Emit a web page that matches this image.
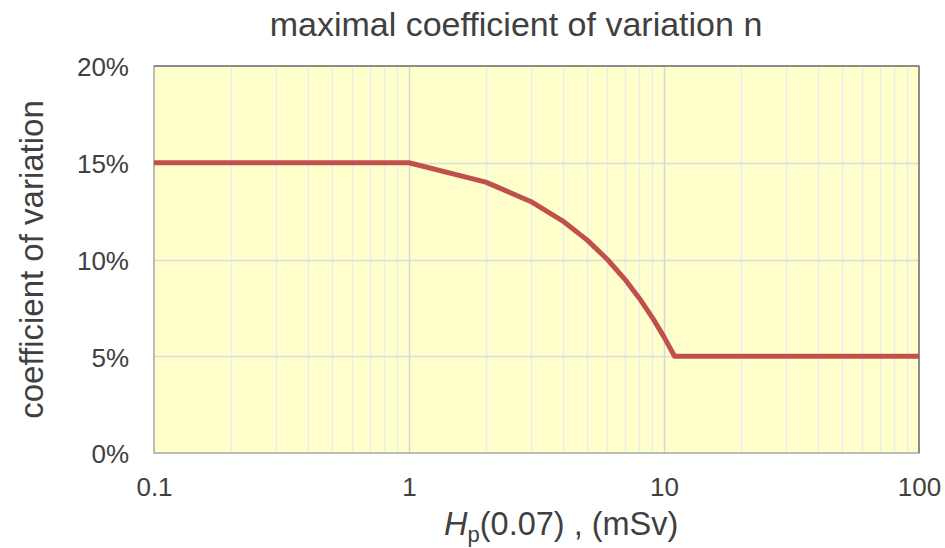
<!DOCTYPE html>
<html>
<head>
<meta charset="utf-8">
<script src="https://cdn.jsdelivr.net/npm/d3@7"></script>
<style>
  body { margin: 0; background: #fff; }
  text { font-family: "Liberation Sans", Arial, sans-serif; fill: #404040; }
</style>
</head>
<body>
<script>
// dose Hp(0.07) in mSv and the maximal coefficient of variation
const doses = [0.1, 1, 2, 3, 4, 5, 6, 7, 8, 9, 10, 11, 100];
const cvValues = [0.15, 0.15, 0.14, 0.13, 0.12, 0.11, 0.10, 0.09, 0.08, 0.07, 0.06, 0.05, 0.05];
const xTicks = [0.1, 1, 10, 100];
const yTicks = [0, 0.05, 0.10, 0.15, 0.20];

const width = 945;
const height = 548;
const margin = { top: 66, right: 26, bottom: 95, left: 154 };

const svg = d3
  .select("body")
  .append("svg")
  .attr("width", width)
  .attr("height", height);

const x = d3
  .scaleLog()
  .domain([0.1, 100])
  .range([margin.left, width - margin.right]);

const y = d3
  .scaleLinear()
  .domain([0, 0.2])
  .range([height - margin.bottom, margin.top]);

svg
  .append("rect")
  .attr("x", x(0.1))
  .attr("y", y(0.2))
  .attr("width", x(100) - x(0.1))
  .attr("height", y(0) - y(0.2))
  .attr("fill", "#ffffcc");

// minor log gridlines
const minorTicks = x.ticks().filter((d) => !xTicks.includes(d));
svg
  .append("g")
  .selectAll("line")
  .data(minorTicks)
  .join("line")
  .attr("x1", (d) => Math.round(x(d)) + 0.5)
  .attr("x2", (d) => Math.round(x(d)) + 0.5)
  .attr("y1", y(0.2))
  .attr("y2", y(0))
  .attr("stroke", "#ececec")
  .attr("stroke-width", 1.5);

svg
  .append("g")
  .selectAll("line")
  .data(xTicks.slice(1, -1))
  .join("line")
  .attr("x1", (d) => Math.round(x(d)) + 0.5)
  .attr("x2", (d) => Math.round(x(d)) + 0.5)
  .attr("y1", y(0.2))
  .attr("y2", y(0))
  .attr("stroke", "#d6d6d6")
  .attr("stroke-width", 1.5);

svg
  .append("g")
  .selectAll("line")
  .data(yTicks.slice(1, -1))
  .join("line")
  .attr("x1", x(0.1))
  .attr("x2", x(100))
  .attr("y1", (d) => Math.round(y(d)) + 0.5)
  .attr("y2", (d) => Math.round(y(d)) + 0.5)
  .attr("stroke", "#dcdcdc")
  .attr("stroke-width", 1.5);

// plot frame
svg
  .append("rect")
  .attr("x", x(0.1))
  .attr("y", y(0.2))
  .attr("width", x(100) - x(0.1))
  .attr("height", y(0) - y(0.2))
  .attr("fill", "none")
  .attr("stroke", "#a6a6a6")
  .attr("stroke-width", 1.5);

svg
  .append("line")
  .attr("x1", x(0.1))
  .attr("x2", x(100))
  .attr("y1", y(0.2))
  .attr("y2", y(0.2))
  .attr("stroke", "#8c8c8c")
  .attr("stroke-width", 2);

svg
  .append("line")
  .attr("x1", x(100))
  .attr("x2", x(100))
  .attr("y1", y(0.2))
  .attr("y2", y(0))
  .attr("stroke", "#8c8c8c")
  .attr("stroke-width", 2);

const line = d3
  .line()
  .x((d, i) => x(doses[i]))
  .y((d) => y(d));

svg
  .append("path")
  .datum(cvValues)
  .attr("d", line)
  .attr("fill", "none")
  .attr("stroke", "#c0504d")
  .attr("stroke-width", 5)
  .attr("stroke-linejoin", "round");

// axes
const xAxis = svg
  .append("g")
  .attr("transform", `translate(0, ${y(0)})`)
  .call(
    d3
      .axisBottom(x)
      .tickValues(xTicks)
      .tickFormat((d) => String(d))
      .tickSize(0)
      .tickPadding(25),
  );
xAxis.select(".domain").remove();
xAxis.selectAll("text").style("font-size", "26px").attr("fill", "#404040");

const yAxis = svg
  .append("g")
  .attr("transform", `translate(${x(0.1)}, 0)`)
  .call(
    d3
      .axisLeft(y)
      .tickValues(yTicks)
      .tickFormat(d3.format(".0%"))
      .tickSize(0)
      .tickPadding(25),
  );
yAxis.select(".domain").remove();
yAxis.selectAll("text").style("font-size", "26px").attr("fill", "#404040").attr("dy", "0.38em");

svg
  .append("text")
  .attr("x", 516)
  .attr("y", 36)
  .attr("text-anchor", "middle")
  .style("font-size", "34px")
  .text("maximal coefficient of variation n");

svg
  .append("text")
  .attr("transform", `translate(43, ${(y(0) + y(0.2)) / 2}) rotate(-90)`)
  .attr("text-anchor", "middle")
  .style("font-size", "33px")
  .text("coefficient of variation");

const xLabel = svg
  .append("text")
  .attr("x", 444)
  .attr("y", 535)
  .attr("text-anchor", "start")
  .style("font-size", "32.5px");
xLabel.append("tspan").style("font-style", "italic").text("H");
xLabel.append("tspan").attr("dy", 7).style("font-size", "22px").text("p");
xLabel.append("tspan").attr("dy", -7).text("(0.07) , (mSv)");
</script>
</body>
</html>
